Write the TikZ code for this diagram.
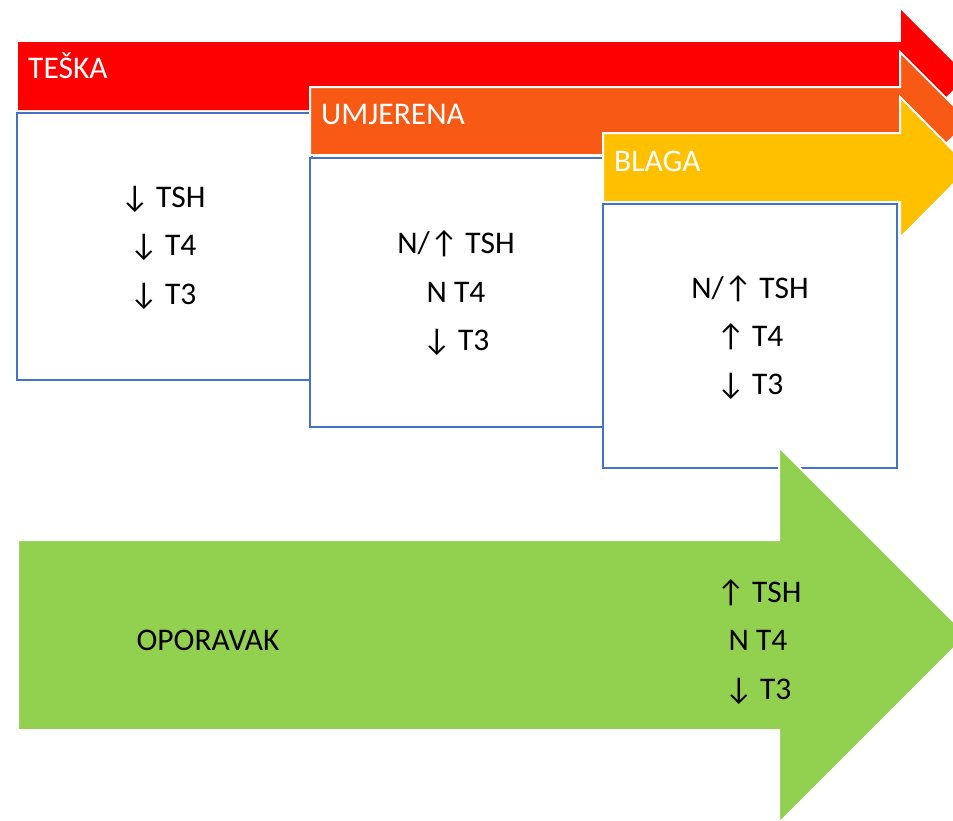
\documentclass[tikz,border=0pt]{standalone}
\usepackage{fontspec}
\setmainfont{Carlito}
\definecolor{cred}{HTML}{FF0000}
\definecolor{corange}{HTML}{F85A16}
\definecolor{cyellow}{HTML}{FFC000}
\definecolor{cgreen}{HTML}{92D050}
\definecolor{cblue}{HTML}{4472C4}
\tikzset{
  band/.style={draw=white, line width=2pt},
  valbox/.style={draw=cblue, line width=2.6pt, fill=white},
  lbl/.style={anchor=base west, inner sep=0pt, text=white, font=\fontsize{31.5}{36}\selectfont},
  val/.style={anchor=base, inner sep=0pt, text=black, font=\fontsize{31.5}{36}\selectfont}
}
\begin{document}
\begin{tikzpicture}[x=1pt,y=-1pt]
\useasboundingbox (0,0) rectangle (953,820);
\clip (0,0) rectangle (953,820);
% red arrow
\fill[cred] (18,42) -- (901,42) -- (901,10) -- (967,76) -- (901,142) -- (901,110) -- (18,110) -- cycle;
\node[lbl] (teska) at (28,78) {TEŠKA};
% box 1
\draw[valbox] (17,113) rectangle (312,380);
% orange arrow
\filldraw[band, fill=corange] (310,87) -- (900,87) -- (900,52) -- (969,121) -- (900,190) -- (900,155) -- (310,155) -- cycle;
\node[lbl] (umjerena) at (321,124) {UMJERENA};
% box 2
\draw[valbox] (310,158) rectangle (605,427);
% yellow arrow
\filldraw[band, fill=cyellow] (603,133) -- (900,133) -- (900,97) -- (970,167.5) -- (900,238) -- (900,202) -- (603,202) -- cycle;
\node[lbl] (blaga) at (614,171) {BLAGA};
% box 3
\draw[valbox] (603,204) rectangle (897,468);
% green arrow
\filldraw[band, fill=cgreen] (18,540) -- (779,540) -- (779,447) -- (967,635) -- (779,823) -- (779,730) -- (18,730) -- cycle;
% texts box 1
\node[val] (a1) at (163,207) {↓ TSH};
\node[val] (a2) at (163,255) {↓ T4};
\node[val] (a3) at (163,304) {↓ T3};
% texts box 2
\node[val] (b1) at (456,253) {N/↑ TSH};
\node[val] (b2) at (456,302) {N T4};
\node[val] (b3) at (456,350) {↓ T3};
% texts box 3
\node[val] (c1) at (750,298) {N/↑ TSH};
\node[val] (c2) at (750,346) {↑ T4};
\node[val] (c3) at (750,394) {↓ T3};
% green texts
\node[val] (oporavak) at (208,650) {OPORAVAK};
\node[val] (d1) at (759,602) {↑ TSH};
\node[val] (d2) at (758,650) {N T4};
\node[val] (d3) at (758,699) {↓ T3};
\end{tikzpicture}
\end{document}
